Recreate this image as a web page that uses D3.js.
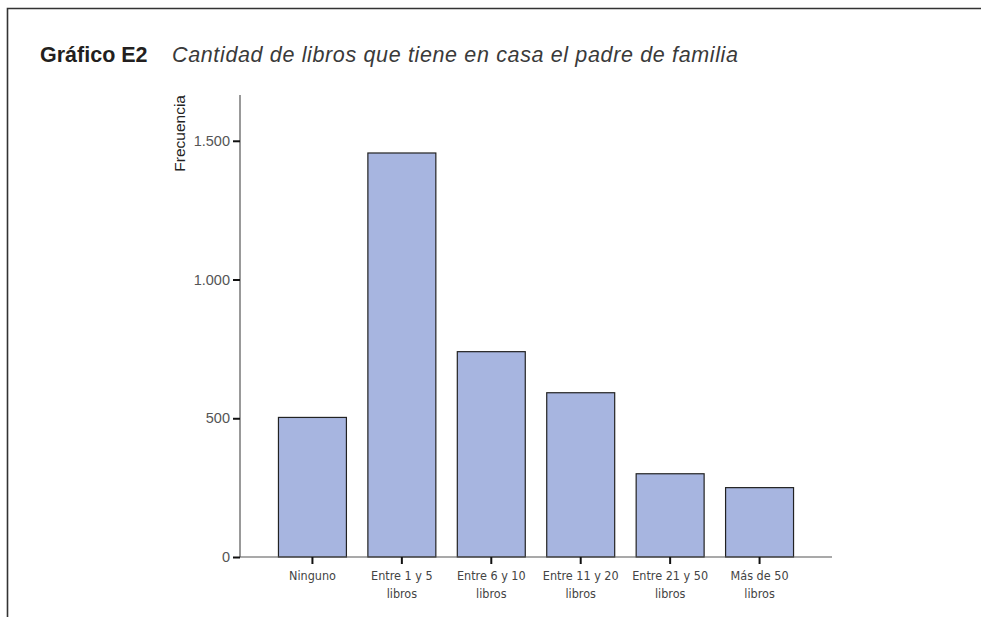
<!DOCTYPE html>
<html>
<head>
<meta charset="utf-8">
<script src="https://cdn.jsdelivr.net/npm/d3@7"></script>
<style>
  body { margin: 0; background: #fff; }
  svg { display: block; }
</style>
</head>
<body>
<div id="chart"></div>
<script>
// data
const categories = ["Ninguno", "Entre 1 y 5 libros", "Entre 6 y 10 libros", "Entre 11 y 20 libros", "Entre 21 y 50 libros", "Más de 50 libros"];
const labelLines = [["Ninguno"], ["Entre 1 y 5", "libros"], ["Entre 6 y 10", "libros"], ["Entre 11 y 20", "libros"], ["Entre 21 y 50", "libros"], ["Más de 50", "libros"]];
const frecuencia = [503, 1456, 740, 592, 300, 250];
const yTicks = [0, 500, 1000, 1500];

const W = 981, H = 617;
const svg = d3.select("#chart").append("svg")
    .attr("width", W)
    .attr("height", H);

// frame
svg.append("path")
    .attr("d", `M7.5,${H} V8.5 H${W}`)
    .attr("fill", "none")
    .attr("stroke", "#333")
    .attr("stroke-width", 1.6);

// title
svg.append("text")
    .attr("x", 40)
    .attr("y", 62)
    .attr("font-family", "Liberation Sans, Arial, sans-serif")
    .attr("font-size", 21.5)
    .attr("font-weight", "bold")
    .attr("fill", "#231f20")
    .text("Gráfico E2");
svg.append("text")
    .attr("x", 172)
    .attr("y", 62)
    .attr("font-family", "Liberation Sans, Arial, sans-serif")
    .attr("font-size", 21.5)
    .attr("font-style", "italic")
    .attr("fill", "#3a3a3a")
    .attr("textLength", 566)
    .attr("lengthAdjust", "spacing")
    .text("Cantidad de libros que tiene en casa el padre de familia");

const margin = { left: 240, right: 149, top: 95, bottom: 60 };
const x = d3.scaleBand()
    .domain(categories)
    .range([margin.left, W - margin.right])
    .paddingInner(0.24)
    .paddingOuter(0.43);

const y = d3.scaleLinear()
    .domain([0, 1665])
    .range([H - margin.bottom, margin.top]);

// bars
svg.append("g").selectAll("rect")
    .data(frecuencia)
    .join("rect")
    .attr("x", (d, i) => x(categories[i]))
    .attr("y", d => y(d))
    .attr("width", x.bandwidth())
    .attr("height", d => y(0) - y(d))
    .attr("fill", "#a7b5e0")
    .attr("stroke", "#222")
    .attr("stroke-width", 1.2);

// y axis
const yAxis = svg.append("g")
    .attr("transform", `translate(${margin.left},0)`)
    .call(d3.axisLeft(y).tickValues(yTicks).tickSize(7).tickPadding(3)
        .tickFormat(d => d3.format(",")(d).replace(/,/g, ".")));
yAxis.select(".domain").attr("stroke", "#555").attr("stroke-width", 1.2)
    .attr("d", `M0,${y(0)}V${margin.top}`);
yAxis.selectAll(".tick line").attr("stroke", "#111").attr("stroke-width", 2);
yAxis.selectAll(".tick text")
    .attr("font-family", "Liberation Sans, Arial, sans-serif")
    .attr("font-size", 14.5)
    .attr("fill", "#555");

// x axis
const xAxis = svg.append("g")
    .attr("transform", `translate(0,${y(0)})`)
    .call(d3.axisBottom(x).tickSize(7).tickSizeOuter(0).tickFormat(""));
xAxis.select(".domain").attr("stroke", "#555").attr("stroke-width", 1.2)
    .attr("d", `M${margin.left},0H${W - margin.right}`);
xAxis.selectAll(".tick line").attr("stroke", "#111").attr("stroke-width", 2);
xAxis.selectAll(".tick").each(function(d, i) {
    const t = d3.select(this).append("text")
        .attr("y", 23)
        .attr("text-anchor", "middle")
        .attr("font-family", "DejaVu Sans Condensed, Liberation Sans Narrow, sans-serif")
        .attr("font-stretch", "condensed")
        .attr("font-size", 12.5)
        .attr("fill", "#444");
    labelLines[i].forEach((line, k) => {
        t.append("tspan").attr("x", 0).attr("dy", k === 0 ? 0 : 18).text(line);
    });
});

// y label
svg.append("text")
    .attr("transform", `translate(185,95) rotate(-90)`)
    .attr("text-anchor", "end")
    .attr("font-family", "Liberation Sans, Arial, sans-serif")
    .attr("font-size", 15.5)
    .attr("fill", "#222")
    .text("Frecuencia");
</script>
</body>
</html>
